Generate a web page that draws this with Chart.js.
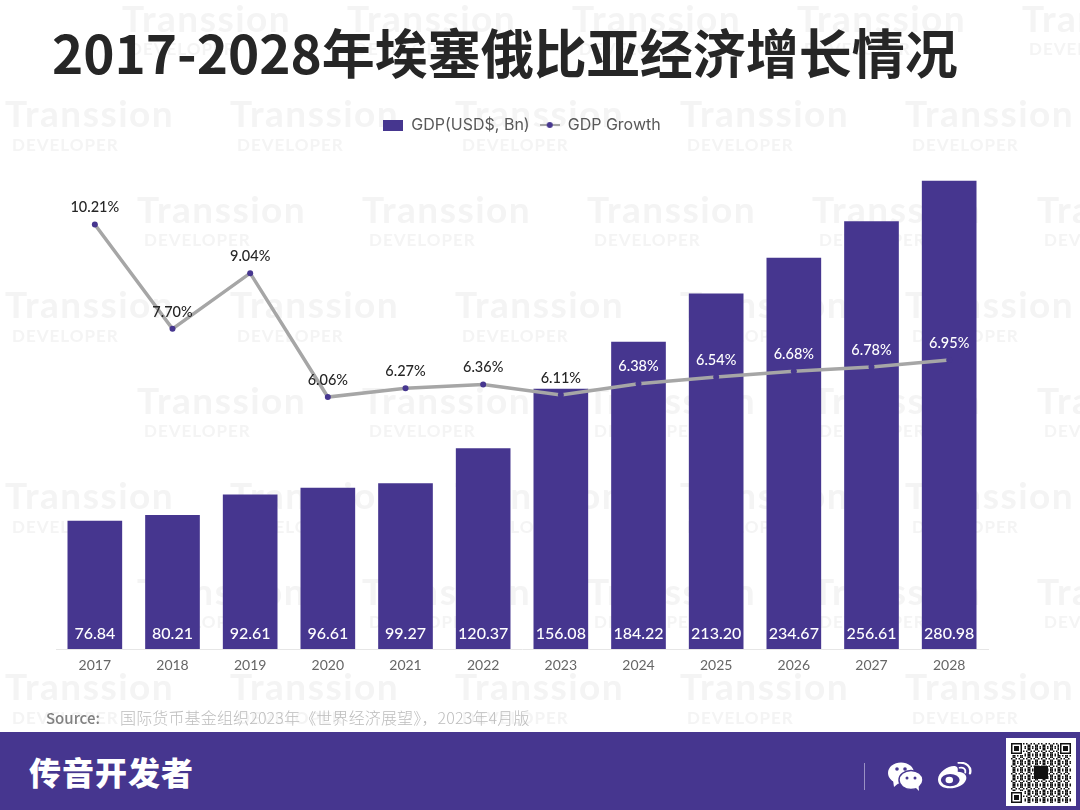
<!DOCTYPE html>
<html>
<head>
<meta charset="utf-8">
<script src="https://cdn.jsdelivr.net/npm/chart.js@4/dist/chart.umd.min.js"></script>
<style>
    html, body { margin: 0; padding: 0; background: #fff; }
    #page { position: relative; width: 1080px; height: 810px; overflow: hidden; font-family: Lato, sans-serif; }
    #chartCanvas { position: absolute; left: 0; top: 0; }
    #title {
        position: absolute; left: 52px; top: 13px; white-space: nowrap;
        font: 700 53px/76px "Noto Sans CJK SC", sans-serif; color: #262626;
    }
    #source { position: absolute; left: 46px; top: 706px; font: 300 16px/22px "Noto Sans CJK SC", sans-serif; color: #bdbdbd; white-space: nowrap; letter-spacing: 0.15px; }
    #source b { display: inline-block; width: 74px; color: #808080; font-weight: 500; font-size: 15px; letter-spacing: 0; }
    #footer { position: absolute; left: 0; top: 732px; width: 1080px; height: 78px; background: #46368f; }
    #brand { position: absolute; left: 29px; top: 17px; font: 900 32px/44px "Noto Sans CJK SC", sans-serif; color: #fff; letter-spacing: 1px; }
    #divider { position: absolute; left: 864px; top: 31px; width: 1px; height: 27px; background: #9a91c4; }
    #icons { position: absolute; left: 888px; top: 30px; }
    #qr { position: absolute; left: 1006px; top: 6px; }
</style>
</head>
<body>
<div id="page">
    <canvas id="chartCanvas" width="1080" height="810"></canvas>
    <div id="title">2017-2028年埃塞俄比亚经济增长情况</div>
    <div id="source"><b>Source:</b>国际货币基金组织2023年《世界经济展望》，2023年4月版</div>
    <div id="footer">
        <div id="brand">传音开发者</div>
        <div id="divider"></div>
        <svg id="icons" width="90" height="32" viewBox="0 0 90 32">
            <ellipse cx="13" cy="11" rx="13" ry="10.5" fill="#fff"/>
            <path d="M5 18 L6 25 L12 20 Z" fill="#fff"/>
            <circle cx="9" cy="7" r="1.8" fill="#46368f"/>
            <circle cx="17" cy="7" r="1.8" fill="#46368f"/>
            <ellipse cx="23" cy="18" rx="12" ry="9.5" fill="#fff" stroke="#46368f" stroke-width="1.5"/>
            <path d="M27 25 L31 29 L30.5 23 Z" fill="#fff"/>
            <circle cx="19" cy="16" r="1.5" fill="#46368f"/>
            <circle cx="27" cy="16" r="1.5" fill="#46368f"/>
            <g transform="translate(50,0) scale(.94,.82) translate(-54,-3)">
                <path d="M54 24 C54 15 66 7 72 8 C76 9 75 13 75 15 C82 15 85 20 84 24 C82 32 72 36 64 35 C57 34 54 30 54 24 Z" fill="#fff"/>
                <ellipse cx="67" cy="25" rx="10" ry="7.5" fill="#46368f"/>
                <circle cx="66" cy="25" r="4" fill="#fff"/>
                <path d="M76 4 C84 3 90 9 88 17" fill="none" stroke="#fff" stroke-width="2.5" stroke-linecap="round"/>
                <path d="M77 10 C81 9 84 12 83 16" fill="none" stroke="#fff" stroke-width="2" stroke-linecap="round"/>
            </g>
        </svg>
        <canvas id="qr" width="70" height="68"></canvas>
    </div>
</div>
<script>
// Chart data
const years = ['2017', '2018', '2019', '2020', '2021', '2022', '2023', '2024', '2025', '2026', '2027', '2028'];
const gdpValues = [76.84, 80.21, 92.61, 96.61, 99.27, 120.37, 156.08, 184.22, 213.20, 234.67, 256.61, 280.98];
const growthValues = [10.21, 7.70, 9.04, 6.06, 6.27, 6.36, 6.11, 6.38, 6.54, 6.68, 6.78, 6.95];

const PURPLE = '#46368f';
const GREY_LINE = '#a6a6a6';
const FONT = 'Lato, sans-serif';

// Legend swatches
function makeSwatch(width, height, draw) {
    const c = document.createElement('canvas');
    c.width = width;
    c.height = height;
    draw(c.getContext('2d'));
    return c;
}
const barSwatch = makeSwatch(20, 11, (g) => {
    g.fillStyle = PURPLE;
    g.fillRect(0, 0, 20, 11);
});
const lineSwatch = makeSwatch(20, 8, (g) => {
    g.strokeStyle = GREY_LINE;
    g.lineWidth = 2;
    g.beginPath();
    g.moveTo(0, 4);
    g.lineTo(20, 4);
    g.stroke();
    g.fillStyle = PURPLE;
    g.beginPath();
    g.arc(10, 4, 3, 0, Math.PI * 2);
    g.fill();
});

// Faint repeated background mark
const watermarkPlugin = {
    id: 'watermark',
    beforeDraw(chart) {
        const ctx = chart.ctx;
        ctx.save();
        ctx.textBaseline = 'middle';
        ctx.textAlign = 'left';
        for (let row = 0; row < 8; row++) {
            const y = 20 + row * 95.5;
            let offset = row % 2 === 0 ? 137 : 5;
            if (row === 0) offset = 122;
            for (let col = 0; col < 5; col++) {
                const x = offset + col * 225;
                ctx.fillStyle = '#f4f4f4';
                ctx.font = '700 37px ' + FONT;
                ctx.letterSpacing = '1.5px';
                ctx.fillText('Transsion', x, y);
                ctx.font = '700 17px ' + FONT;
                ctx.letterSpacing = '1px';
                ctx.fillText('DEVELOPER', x + 7, y + 30);
            }
        }
        ctx.restore();
    }
};

// Value labels: bar values at the foot of each bar, growth above each point
const valueLabelPlugin = {
    id: 'valueLabels',
    afterDatasetsDraw(chart) {
        const ctx = chart.ctx;
        const bars = chart.getDatasetMeta(0).data;
        const points = chart.getDatasetMeta(1).data;
        ctx.save();
        ctx.textAlign = 'center';
        ctx.textBaseline = 'middle';
        ctx.font = '500 16px ' + FONT;
        ctx.fillStyle = '#ffffff';
        bars.forEach((bar, i) => {
            ctx.fillText(gdpValues[i].toFixed(2), bar.x, bar.base - 15);
        });
        ctx.font = '500 14.5px ' + FONT;
        points.forEach((point, i) => {
            const y = point.y - 17;
            ctx.fillStyle = y > bars[i].y ? '#ffffff' : '#262626';
            ctx.fillText(growthValues[i].toFixed(2) + '%', point.x, y);
        });
        ctx.restore();
    }
};

const chart = new Chart(document.getElementById('chartCanvas'), {
    data: {
        labels: years,
        datasets: [
            {
                type: 'bar',
                label: 'GDP(USD$, Bn)',
                data: gdpValues,
                yAxisID: 'yBar',
                backgroundColor: PURPLE,
                borderWidth: 0,
                barThickness: 54,
                order: 2
            },
            {
                type: 'line',
                label: 'GDP Growth',
                data: growthValues,
                yAxisID: 'yLine',
                borderColor: GREY_LINE,
                borderWidth: 3.5,
                tension: 0,
                pointRadius: 3,
                pointBackgroundColor: PURPLE,
                pointBorderWidth: 0,
                order: 1
            }
        ]
    },
    options: {
        responsive: false,
        animation: false,
        layout: { padding: { left: 56, right: 92, top: 107, bottom: 131 } },
        plugins: {
            tooltip: { enabled: false },
            legend: {
                position: 'top',
                labels: {
                    usePointStyle: true,
                    pointStyleWidth: 20,
                    padding: 10,
                    color: '#595959',
                    font: { family: 'Inter, sans-serif', size: 16 },
                    generateLabels: (c) => c.data.datasets.map((ds, i) => ({
                        text: ds.label,
                        pointStyle: i === 0 ? barSwatch : lineSwatch,
                        datasetIndex: i,
                        fontColor: '#595959',
                        lineWidth: 0
                    }))
                }
            }
        },
        scales: {
            x: {
                grid: { display: false },
                border: { color: '#e6e6e6', width: 1 },
                ticks: { color: '#666666', font: { family: FONT, size: 14 }, padding: 0 },
                afterFit: (scale) => { scale.height = 30; }
            },
            yBar: { display: false, min: 0, max: 303.8 },
            yLine: { display: false, min: 0, max: 12.17 }
        }
    },
    plugins: [watermarkPlugin, valueLabelPlugin]
});

// QR code block in the footer
const qrCtx = document.getElementById('qr').getContext('2d');
qrCtx.fillStyle = '#fff';
qrCtx.fillRect(0, 0, 70, 68);
qrCtx.fillStyle = '#111';
const cell = 1.5;
for (let r = 0; r < 40; r++) {
    for (let c = 0; c < 40; c++) {
        if ((r * r * 3 + c * 7 + r * c * 5 + c * c) % 5 < 2) {
            qrCtx.fillRect(5 + c * cell, 5 + r * cell, cell, cell);
        }
    }
}
[[5, 5], [54, 5], [5, 54]].forEach(([x, y]) => {
    qrCtx.fillStyle = '#fff';
    qrCtx.fillRect(x - 1, y - 1, 13, 13);
    qrCtx.fillStyle = '#111';
    qrCtx.fillRect(x, y, 11, 11);
    qrCtx.fillStyle = '#fff';
    qrCtx.fillRect(x + 1.5, y + 1.5, 8, 8);
    qrCtx.fillStyle = '#111';
    qrCtx.fillRect(x + 3, y + 3, 5, 5);
});
qrCtx.fillStyle = '#111';
qrCtx.fillRect(28, 28, 14, 13);
</script>
</body>
</html>
